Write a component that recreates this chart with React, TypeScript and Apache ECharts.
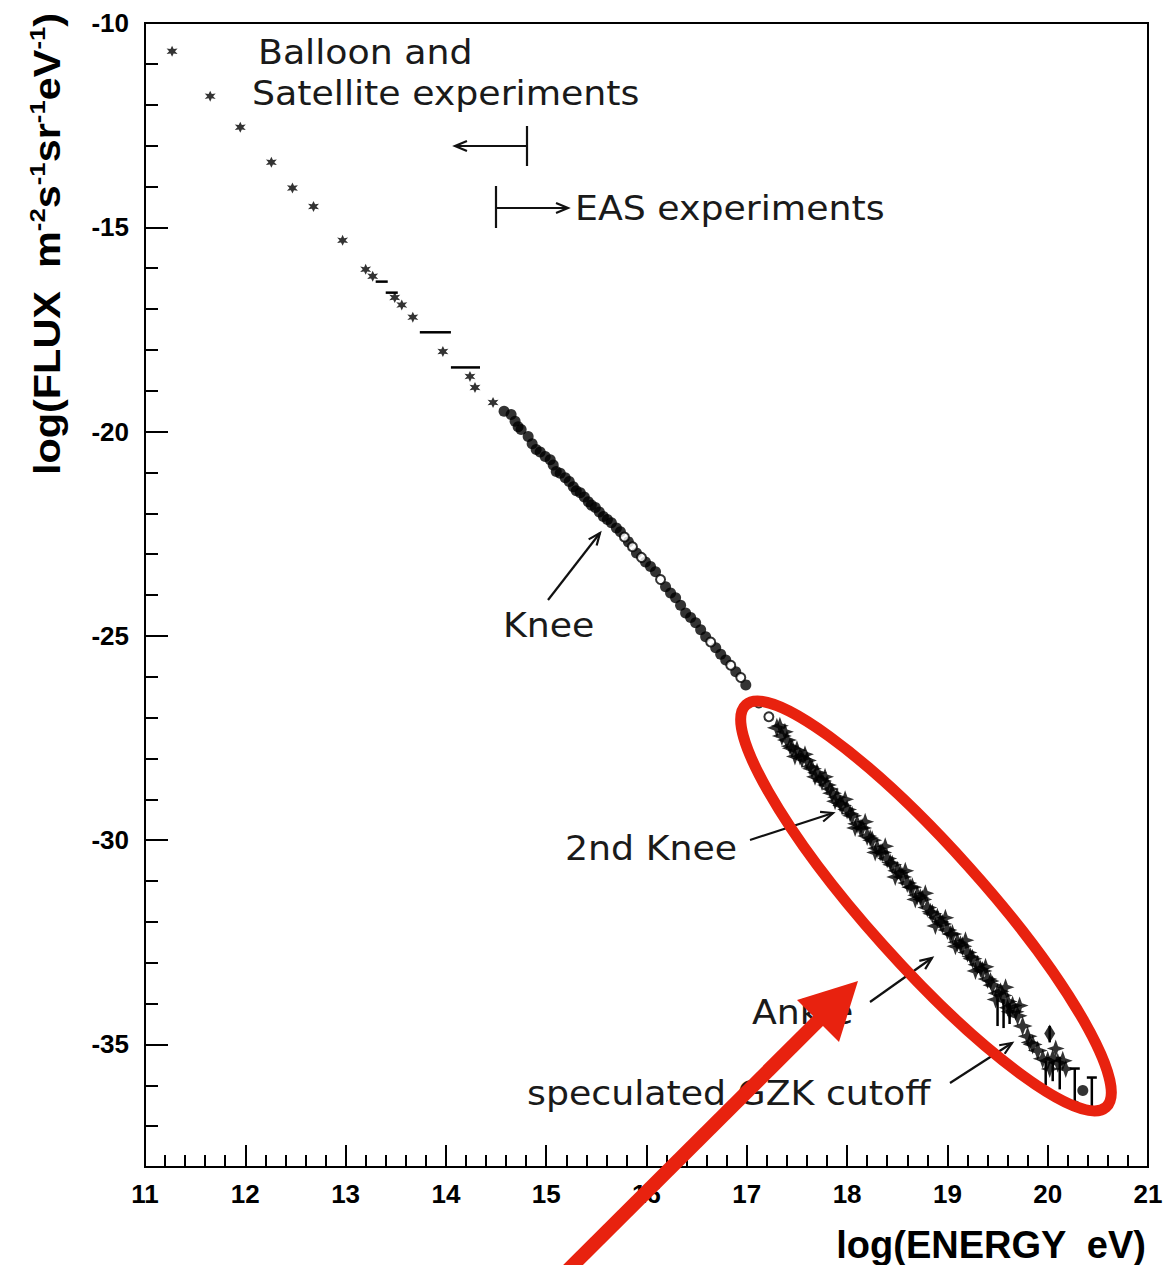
import React, { useEffect, useRef } from "react";
import * as echarts from "echarts";

// ---------- data ----------
const xRange = [11, 21];
const yRange = [-38, -10];
const yMajorTicks = [-35, -30, -25, -20, -15, -10];

// balloon & satellite experiments (direct measurements)
const satellitePoints = [
  [11.27, -10.69], [11.65, -11.79], [11.95, -12.55], [12.26, -13.41],
  [12.47, -14.04], [12.68, -14.49], [12.97, -15.32], [13.2, -16.03],
  [13.27, -16.2], [13.49, -16.72], [13.56, -16.9], [13.67, -17.2],
  [13.97, -18.04], [14.24, -18.65], [14.29, -18.92], [14.47, -19.29],
];
// horizontal (energy bin) bars: [xFrom, xTo, y]
const satelliteBars = [
  [13.3, 13.42, -16.33], [13.4, 13.52, -16.6], [13.74, 14.05, -17.57], [14.05, 14.34, -18.43],
];

// knee region, filled circles
const kneeFilled = [
  [14.58, -19.5], [14.65, -19.58], [14.69, -19.75], [14.72, -19.88], [14.75, -19.95],
  [14.82, -20.12], [14.86, -20.3], [14.9, -20.44], [14.94, -20.5], [14.99, -20.61],
  [15.04, -20.69], [15.07, -20.82], [15.1, -20.98], [15.14, -21.02], [15.19, -21.13],
  [15.23, -21.22], [15.27, -21.35], [15.3, -21.45], [15.34, -21.5], [15.38, -21.6],
  [15.42, -21.72], [15.45, -21.8], [15.49, -21.86], [15.53, -21.97], [15.57, -22.08],
  [15.61, -22.15], [15.65, -22.23], [15.7, -22.36], [15.74, -22.45], [15.82, -22.7],
  [15.9, -22.97], [15.99, -23.19], [16.04, -23.3], [16.09, -23.43], [16.19, -23.8],
  [16.24, -23.95], [16.29, -24.07], [16.34, -24.25], [16.39, -24.44], [16.44, -24.55],
  [16.49, -24.68], [16.54, -24.85], [16.59, -25.02], [16.69, -25.29], [16.74, -25.45],
  [16.79, -25.59], [16.89, -25.88], [16.99, -26.2],
];
// knee region, open circles
const kneeOpen = [
  [15.78, -22.58], [15.86, -22.82], [15.95, -23.08], [16.14, -23.62], [16.64, -25.15],
  [16.84, -25.72], [16.94, -26.02], [17.12, -26.64], [17.22, -26.98],
];

// EAS experiments above the second knee (stars)
const easStarsA = [
  [17.3, -27.25], [17.35, -27.45], [17.4, -27.55], [17.45, -27.75], [17.5, -27.8],
  [17.55, -28.0], [17.6, -28.05], [17.65, -28.25], [17.7, -28.35], [17.75, -28.55],
  [17.8, -28.65], [17.85, -28.85], [17.9, -28.95], [17.95, -29.15], [18.0, -29.25],
  [18.05, -29.4], [18.1, -29.6], [18.15, -29.7], [18.2, -29.9], [18.25, -30.0],
  [18.3, -30.2], [18.35, -30.3], [18.4, -30.45], [18.45, -30.6], [18.5, -30.75],
  [18.55, -30.9], [18.6, -31.05], [18.65, -31.15], [18.7, -31.35], [18.75, -31.45],
  [18.8, -31.65], [18.85, -31.8], [18.9, -31.9], [18.95, -32.05], [19.0, -32.2],
  [19.05, -32.3], [19.1, -32.5], [19.15, -32.6], [19.2, -32.75], [19.25, -32.9],
  [19.3, -33.05], [19.35, -33.2], [19.4, -33.4], [19.45, -33.55], [19.5, -33.75],
  [19.55, -33.8], [19.6, -33.95], [19.65, -34.05], [19.7, -34.3], [19.75, -34.55],
  [19.8, -34.8], [19.85, -35.0], [19.9, -35.15], [19.95, -35.35], [20.0, -35.4],
  [20.05, -35.35], [20.1, -35.45], [20.15, -35.4],
];
const easStarsB = [
  [17.38, -27.35], [17.48, -27.95], [17.58, -27.9], [17.68, -28.45], [17.78, -28.45],
  [17.88, -29.05], [17.98, -29.0], [18.08, -29.7], [18.18, -29.55], [18.28, -30.3],
  [18.38, -30.15], [18.48, -30.9], [18.58, -30.75], [18.68, -31.45], [18.78, -31.3],
  [18.88, -32.1], [18.98, -31.9], [19.08, -32.6], [19.18, -32.45], [19.28, -33.2],
  [19.38, -33.1], [19.48, -33.9], [19.58, -33.6], [19.62, -34.2], [19.72, -34.05],
  [19.82, -34.95], [20.02, -35.6], [20.08, -35.1], [20.18, -35.6],
];
const easStarsC = [
  [17.33, -27.2], [17.43, -27.7], [17.53, -27.95], [17.63, -28.2], [17.73, -28.5],
  [17.83, -28.75], [17.93, -29.1], [18.03, -29.35], [18.13, -29.7], [18.23, -29.95],
  [18.33, -30.3], [18.43, -30.55], [18.53, -30.8], [18.63, -31.15], [18.73, -31.4],
  [18.83, -31.75], [18.93, -32.0], [19.03, -32.3], [19.13, -32.55], [19.23, -32.85],
  [19.33, -33.15], [19.43, -33.45], [19.53, -33.7], [19.6, -34.1], [19.68, -34.2],
];
// vertical error bars: [x, yLow, yHigh, cap(1/0)]
const easErrorBars = [
  [19.5, -34.55, -33.9, 0], [19.56, -34.6, -33.9, 0], [19.62, -34.5, -34.0, 0],
  [19.98, -36.0, -35.4, 0], [20.05, -35.9, -35.4, 0], [20.12, -36.1, -35.3, 0],
  [20.02, -34.95, -34.55, 0], [20.27, -36.54, -35.59, 1], [20.44, -36.62, -35.81, 1],
];
const highDiamond = [[20.02, -34.73]];
const highCircles = [[20.35, -36.13], [20.27, -36.5]];

// ---------- annotations (page layout) ----------
const annoFont = '"DejaVu Sans", sans-serif';
const annotations = [
  { text: "Balloon and", x: 258, y: 53 },
  { text: "Satellite experiments", x: 252, y: 94 },
  { text: "EAS experiments", x: 575, y: 209 },
  { text: "Knee", x: 503, y: 626 },
  { text: "2nd Knee", x: 565, y: 849 },
  { text: "Ankle", x: 752, y: 1013 },
  { text: "speculated GZK cutoff", x: 527, y: 1094 },
];
const blackArrows = [
  [527, 146, 455, 146],
  [496, 208, 568, 208],
  [548, 600, 600, 533],
  [750, 840, 833, 813],
  [870, 1002, 932, 958],
  [950, 1083, 1012, 1043],
];

function arrowHead(x1: number, y1: number, x2: number, y2: number, len = 13, ang = 0.4) {
  const a = Math.atan2(y2 - y1, x2 - x1);
  return [
    [x2 - len * Math.cos(a - ang), y2 - len * Math.sin(a - ang)],
    [x2, y2],
    [x2 - len * Math.cos(a + ang), y2 - len * Math.sin(a + ang)],
  ];
}

const STAR = "path://M0,-10 L2.6,-2.6 L10,0 L2.6,2.6 L0,10 L-2.6,2.6 L-10,0 L-2.6,-2.6 Z";
const ASTER = "path://M0,-10 L2.5,-4 L8.7,-5 L4.6,0 L8.7,5 L2.5,4 L0,10 L-2.5,4 L-8.7,5 L-4.6,0 L-8.7,-5 L-2.5,-4 Z";

export default function App() {
  const ref = useRef<HTMLDivElement>(null);
  useEffect(() => {
    if (!ref.current) return;
    const chart = echarts.init(ref.current, undefined, { renderer: "svg" });
    const axisFont = { fontFamily: '"Liberation Sans", Arial, sans-serif', fontWeight: "bold" as const, fontSize: 26, color: "#000" };

    const graphics: any[] = [];
    annotations.forEach((a) => {
      graphics.push({
        type: "text", z: 50, x: a.x, y: a.y, scaleX: 1.1,
        style: { text: a.text, x: 0, y: 0, font: `normal 33px ${annoFont}`, fill: "#1a1a1a", textAlign: "left", textVerticalAlign: "middle", align: "left", verticalAlign: "middle" },
      });
    });
    blackArrows.forEach(([x1, y1, x2, y2]) => {
      graphics.push({ type: "line", z: 50, shape: { x1, y1, x2, y2 }, style: { stroke: "#111", lineWidth: 2.2 } });
      graphics.push({ type: "polyline", z: 50, shape: { points: arrowHead(x1, y1, x2, y2) }, style: { stroke: "#111", lineWidth: 2.2, fill: "none" } });
    });
    // range bars
    graphics.push({ type: "line", z: 50, shape: { x1: 527, y1: 126, x2: 527, y2: 166 }, style: { stroke: "#111", lineWidth: 2.2 } });
    graphics.push({ type: "line", z: 50, shape: { x1: 496, y1: 186, x2: 496, y2: 228 }, style: { stroke: "#111", lineWidth: 2.2 } });
    // y axis name
    graphics.push({
      type: "text", z: 50, x: 47, y: 244, rotation: Math.PI / 2, scaleX: 1.12,
      style: {
        text: "{b|log(FLUX  m}{s|-2}{b|s}{s|-1}{b|sr}{s|-1}{b|eV}{s|-1}{b|)}",
        x: 0, y: 0, align: "center", verticalAlign: "middle", textAlign: "center", textVerticalAlign: "middle",
        fill: "#000",
        rich: {
          b: { fontSize: 37, fontWeight: "bold", fontFamily: '"Liberation Sans", Arial, sans-serif', lineHeight: 44, verticalAlign: "middle", fill: "#000", color: "#000" },
          s: { fontSize: 23, fontWeight: "bold", fontFamily: '"Liberation Sans", Arial, sans-serif', lineHeight: 23, verticalAlign: "top", fill: "#000", color: "#000" },
        },
      },
    });
    // x axis name
    graphics.push({
      type: "text", z: 50,
      style: { text: "log(ENERGY  eV)", x: 1146, y: 1245, font: 'bold 38px "Liberation Sans", Arial, sans-serif', fill: "#000", textAlign: "right", textVerticalAlign: "middle", align: "right", verticalAlign: "middle" },
    });
    // red highlight ellipse and arrow
    graphics.push({
      type: "ellipse", z: 100, x: 926, y: 906, rotation: -0.84,
      shape: { cx: 0, cy: 0, rx: 270, ry: 58 },
      style: { stroke: "#e8220f", lineWidth: 11, fill: "none" },
    });
    graphics.push({ type: "line", z: 100, shape: { x1: 566, y1: 1272, x2: 826, y2: 1013 }, style: { stroke: "#e8220f", lineWidth: 14 } });
    graphics.push({ type: "polygon", z: 100, shape: { points: [[858, 981], [797, 1000], [839, 1042]] }, style: { fill: "#e8220f" } });

    const vBarRender = (params: any, api: any) => {
      const x = api.value(0), lo = api.value(1), hi = api.value(2), cap = api.value(3);
      const p1 = api.coord([x, lo]), p2 = api.coord([x, hi]);
      const children: any[] = [{ type: "line", shape: { x1: p1[0], y1: p1[1], x2: p2[0], y2: p2[1] }, style: { stroke: "#000", lineWidth: 2.5 } }];
      if (cap) {
        children.push({ type: "line", shape: { x1: p1[0] - 5, y1: p1[1], x2: p1[0] + 5, y2: p1[1] }, style: { stroke: "#000", lineWidth: 2.5 } });
        children.push({ type: "line", shape: { x1: p2[0] - 5, y1: p2[1], x2: p2[0] + 5, y2: p2[1] }, style: { stroke: "#000", lineWidth: 2.5 } });
      }
      return { type: "group", children };
    };
    const hBarRender = (params: any, api: any) => {
      const p1 = api.coord([api.value(0), api.value(2)]), p2 = api.coord([api.value(1), api.value(2)]);
      return { type: "line", shape: { x1: p1[0], y1: p1[1], x2: p2[0], y2: p2[1] }, style: { stroke: "#000", lineWidth: 2.5 } };
    };

    chart.setOption({
      animation: false,
      backgroundColor: "#fff",
      grid: { left: 145, right: 15, top: 23, bottom: 98, show: true, borderColor: "#000", borderWidth: 2, outerBoundsMode: "none", containLabel: false },
      xAxis: {
        type: "value", min: xRange[0], max: xRange[1], interval: 1,
        axisLine: { lineStyle: { color: "#000", width: 2 } },
        axisTick: { inside: true, length: 22, lineStyle: { color: "#000", width: 2 } },
        minorTick: { show: true, splitNumber: 5, length: 12, lineStyle: { color: "#000", width: 2 } },
        splitLine: { show: false },
        axisLabel: { ...axisFont, margin: 14, showMinLabel: true, showMaxLabel: true },
      },
      yAxis: [
        {
          type: "value", min: yRange[0], max: yRange[1], interval: 1,
          axisLine: { lineStyle: { color: "#000", width: 2 } },
          axisTick: { inside: true, length: 13, lineStyle: { color: "#000", width: 2 } },
          splitLine: { show: false },
          axisLabel: { show: false },
        },
        {
          type: "value", min: yRange[0], max: yRange[1], position: "left", offset: 0,
          axisLine: { show: false },
          axisTick: { inside: true, length: 23, customValues: yMajorTicks, lineStyle: { color: "#000", width: 2 } },
          splitLine: { show: false },
          axisLabel: { ...axisFont, margin: 16, customValues: yMajorTicks },
        },
      ],
      series: [
        { type: "custom", renderItem: hBarRender, data: satelliteBars, encode: { x: [0, 1], y: 2 }, z: 3 },
        { type: "custom", renderItem: vBarRender, data: easErrorBars, encode: { x: 0, y: [1, 2] }, z: 3 },
        { type: "scatter", data: satellitePoints, symbol: ASTER, symbolSize: 11, itemStyle: { color: "#000" }, z: 4 },
        { type: "scatter", data: kneeFilled, symbol: "circle", symbolSize: 11, itemStyle: { color: "#000" }, z: 4 },
        { type: "scatter", data: kneeOpen, symbol: "circle", symbolSize: 9, itemStyle: { color: "#fff", borderColor: "#000", borderWidth: 2 }, z: 5 },
        { type: "scatter", data: easStarsA, symbol: STAR, symbolSize: 20, itemStyle: { color: "#000" }, z: 4 },
        { type: "scatter", data: easStarsB, symbol: STAR, symbolSize: 18, itemStyle: { color: "#000" }, z: 4 },
        { type: "scatter", data: easStarsC, symbol: STAR, symbolSize: 18, itemStyle: { color: "#000" }, z: 4 },
        { type: "scatter", data: highDiamond, symbol: "diamond", symbolSize: [11, 18], itemStyle: { color: "#000" }, z: 4 },
        { type: "scatter", data: highCircles, symbol: "circle", symbolSize: 11, itemStyle: { color: "#000" }, z: 4 },
      ],
      graphic: graphics,
    });
    return () => chart.dispose();
  }, []);
  return <div ref={ref} style={{ position: "fixed", left: 0, top: 0, width: 1163, height: 1265, background: "#fff" }} />;
}
